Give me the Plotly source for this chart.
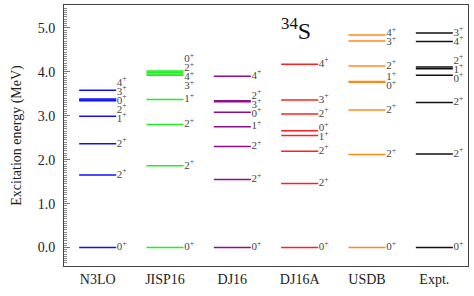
import plotly.graph_objects as go

# ---- data ----
categories = ["N3LO", "JISP16", "DJ16", "DJ16A", "USDB", "Expt."]

n3lo_E = [0.0, 1.65, 2.36, 2.99, 3.34, 3.36, 3.38, 3.58]
n3lo_J = ["0+", "2+", "2+", "1+", "2+", "0+", "3+", "4+"]

jisp16_E = [0.0, 1.86, 2.80, 3.37, 3.92, 3.95, 3.99, 4.02]
jisp16_J = ["0+", "2+", "2+", "1+", "3+", "4+", "2+", "0+"]

dj16_E = [0.0, 1.55, 2.30, 2.75, 3.08, 3.32, 3.34, 3.90]
dj16_J = ["0+", "2+", "2+", "1+", "0+", "3+", "2+", "4+"]

dj16a_E = [0.0, 1.46, 2.19, 2.55, 2.66, 3.04, 3.36, 4.17]
dj16a_J = ["0+", "2+", "2+", "1+", "0+", "2+", "3+", "4+"]

usdb_E = [0.0, 2.12, 3.13, 3.76, 3.78, 4.13, 4.70, 4.84]
usdb_J = ["0+", "2+", "2+", "0+", "1+", "2+", "3+", "4+"]

expt_E = [0.0, 2.13, 3.30, 3.92, 4.07, 4.11, 4.69, 4.88]
expt_J = ["0+", "2+", "2+", "0+", "1+", "2+", "4+", "3+"]

series_E = [n3lo_E, jisp16_E, dj16_E, dj16a_E, usdb_E, expt_E]
series_J = [n3lo_J, jisp16_J, dj16_J, dj16a_J, usdb_J, expt_J]

# ---- styles ----
colors = ["#1010ff", "#22ee22", "#8e0f8e", "#ff2020", "#ff8a1a", "#111111"]
HALF = 0.275      # half length of a level line (category units)
GAP = 0.205       # minimum label separation (MeV)
SERIF = "Liberation Serif"


def spread(energies, gap):
    """Place labels so that they do not overlap: clusters centred on their mean."""
    order = sorted(range(len(energies)), key=lambda i: energies[i])
    clusters = [[i] for i in order]

    def positions(cl):
        m = sum(energies[i] for i in cl) / len(cl)
        n = len(cl)
        return [m + (k - (n - 1) / 2) * gap for k in range(n)]

    changed = True
    while changed:
        changed = False
        for k in range(len(clusters) - 1):
            lo = positions(clusters[k])
            hi = positions(clusters[k + 1])
            if lo[-1] + gap > hi[0] + 1e-9:
                clusters[k] = clusters[k] + clusters[k + 1]
                del clusters[k + 1]
                changed = True
                break
    out = [0.0] * len(energies)
    for cl in clusters:
        for i, p in zip(cl, positions(cl)):
            out[i] = p
    return out


def label(j):
    return j[:-1] + "<sup>" + j[-1] + "</sup>"


fig = go.Figure()
for c, (E, J, col) in enumerate(zip(series_E, series_J, colors)):
    xs, ys = [], []
    for e in E:
        xs += [c - HALF, c + HALF, None]
        ys += [e, e, None]
    fig.add_trace(go.Scatter(x=xs, y=ys, mode="lines",
                             line=dict(color=col, width=1.5),
                             hoverinfo="skip", showlegend=False))
    lp = spread(E, GAP)
    fig.add_trace(go.Scatter(x=[c + HALF + 0.01] * len(E), y=lp, mode="text",
                             text=[label(j) for j in J],
                             textposition="middle right",
                             textfont=dict(family=SERIF, size=11, color="#444444"),
                             cliponaxis=False,
                             hoverinfo="skip", showlegend=False))

fig.add_annotation(x=0.575, y=0.975, xref="paper", yref="paper",
                   text="<sup>34</sup>S", showarrow=False,
                   font=dict(family=SERIF, size=24, color="#111111"))

fig.update_layout(
    width=474, height=296,
    margin=dict(l=64, r=6, t=5, b=30, autoexpand=False),
    plot_bgcolor="white", paper_bgcolor="white",
    font=dict(family=SERIF, size=14, color="#222222"),
    xaxis=dict(range=[-0.5, 5.5], tickvals=list(range(len(categories))),
               ticktext=categories, showgrid=False, zeroline=False,
               showline=True, mirror=True, linecolor="#444444", linewidth=1,
               ticks="", automargin=False,
               tickfont=dict(family=SERIF, size=14, color="#222222")),
    yaxis=dict(range=[-0.42, 5.52], tickvals=[0, 1, 2, 3, 4, 5],
               tickformat=".1f", showgrid=False, zeroline=False,
               showline=True, mirror=True, linecolor="#444444", linewidth=1,
               ticks="inside", ticklen=6, tickcolor="#777777",
               minor=dict(dtick=0.05, ticks="inside", ticklen=3, tickcolor="#888888"),
               ticklabelstandoff=5, automargin=False,
               tickfont=dict(family=SERIF, size=14, color="#222222"),
               title=dict(text="Excitation energy (MeV)", standoff=12,
                          font=dict(family=SERIF, size=14, color="#222222"))),
)

fig.write_html("out.html", config={"displayModeBar": False},
               post_script="document.body.style.margin='0';document.body.style.overflow='hidden';")
